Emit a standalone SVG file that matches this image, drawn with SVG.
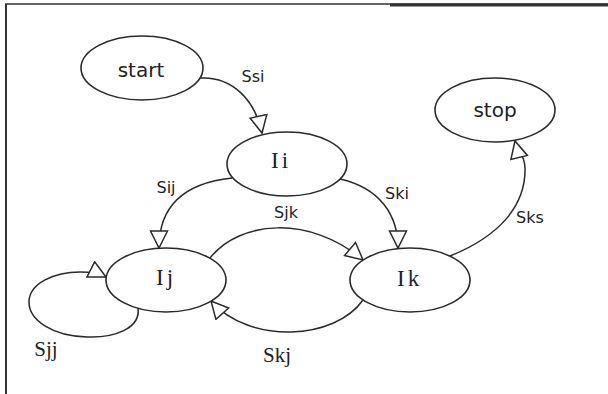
<svg xmlns="http://www.w3.org/2000/svg" width="608" height="394" viewBox="0 0 608 394">
<style>
.node ellipse{fill:#fff;stroke:#2a2a2a;stroke-width:1.6}
.sans{font-family:"DejaVu Sans","Liberation Sans",sans-serif;fill:#222}
.serif{font-family:"Liberation Serif","DejaVu Serif",serif;fill:#222}
.edge{fill:none;stroke:#2a2a2a;stroke-width:1.5}
.lbl{font-size:16px;text-anchor:middle}
.nl{font-size:20px;text-anchor:middle}
.il{font-size:23px;letter-spacing:3px}
.border{stroke:#333;fill:none}
</style>
<defs>
<marker id="arr" markerUnits="userSpaceOnUse" markerWidth="20" markerHeight="20" viewBox="-1 -1 20 20" refX="17" refY="8.5" orient="auto">
<path d="M0,0 L17,8.5 L0,17 Z" fill="#fff" stroke="#2a2a2a" stroke-width="1.5"/>
</marker>
</defs>
<rect width="608" height="394" fill="#fff"/>
<g id="frame">
<line class="border" x1="5" y1="4" x2="608" y2="4" stroke-width="1.5"/>
<line class="border" x1="390" y1="5" x2="608" y2="5" stroke-width="3"/>
<line class="border" x1="6" y1="4" x2="6" y2="394" stroke-width="2"/>
</g>
<g id="connectors">
<path class="edge" marker-end="url(#arr)" d="M200,78 C232,76 255,100 262,133"/>
<path class="edge" marker-end="url(#arr)" d="M232,178 C185,183 159,205 159,248"/>
<path class="edge" marker-end="url(#arr)" d="M340,179 C380,188 398,215 398,248"/>
<path class="edge" marker-end="url(#arr)" d="M210,258 C240,220 310,215 363,260"/>
<path class="edge" marker-end="url(#arr)" d="M363,300 C335,340 250,345 211,301"/>
<path class="edge" marker-end="url(#arr)" d="M450,256 C500,236 526,205 525,168 C525,155 517,149 515,141"/>
<path class="edge" marker-end="url(#arr)" d="M138,308 C141,328 115,338 87,337 C52,336 29,320 29,302 C29,283 55,272 80,272 C92,272 100,274 106,277"/>
<text class="sans lbl" x="253" y="82">Ssi</text>
<text class="sans lbl" x="166" y="193">Sij</text>
<text class="sans lbl" x="397" y="199">Ski</text>
<text class="sans lbl" x="286" y="218">Sjk</text>
<text class="sans lbl" x="530" y="223">Sks</text>
<text class="serif" font-size="21" text-anchor="middle" x="46" y="356">Sjj</text>
<text class="serif" font-size="21" text-anchor="middle" x="277" y="362">Skj</text>
</g>
<g id="start" class="node">
<ellipse cx="142" cy="68" rx="61" ry="32"/>
<text class="sans nl" x="141" y="77">start</text>
</g>
<g id="stop" class="node">
<ellipse cx="495" cy="110" rx="60" ry="32"/>
<text class="sans nl" x="495" y="117">stop</text>
</g>
<g id="Ii" class="node">
<ellipse cx="287" cy="164" rx="60" ry="32"/>
<text class="serif il" x="271" y="168">Ii</text>
</g>
<g id="Ij" class="node">
<ellipse cx="166" cy="280" rx="60" ry="32"/>
<text class="serif il" x="156" y="285">Ij</text>
</g>
<g id="Ik" class="node">
<ellipse cx="410" cy="280" rx="60" ry="32"/>
<text class="serif il" x="397" y="286">Ik</text>
</g>
</svg>
